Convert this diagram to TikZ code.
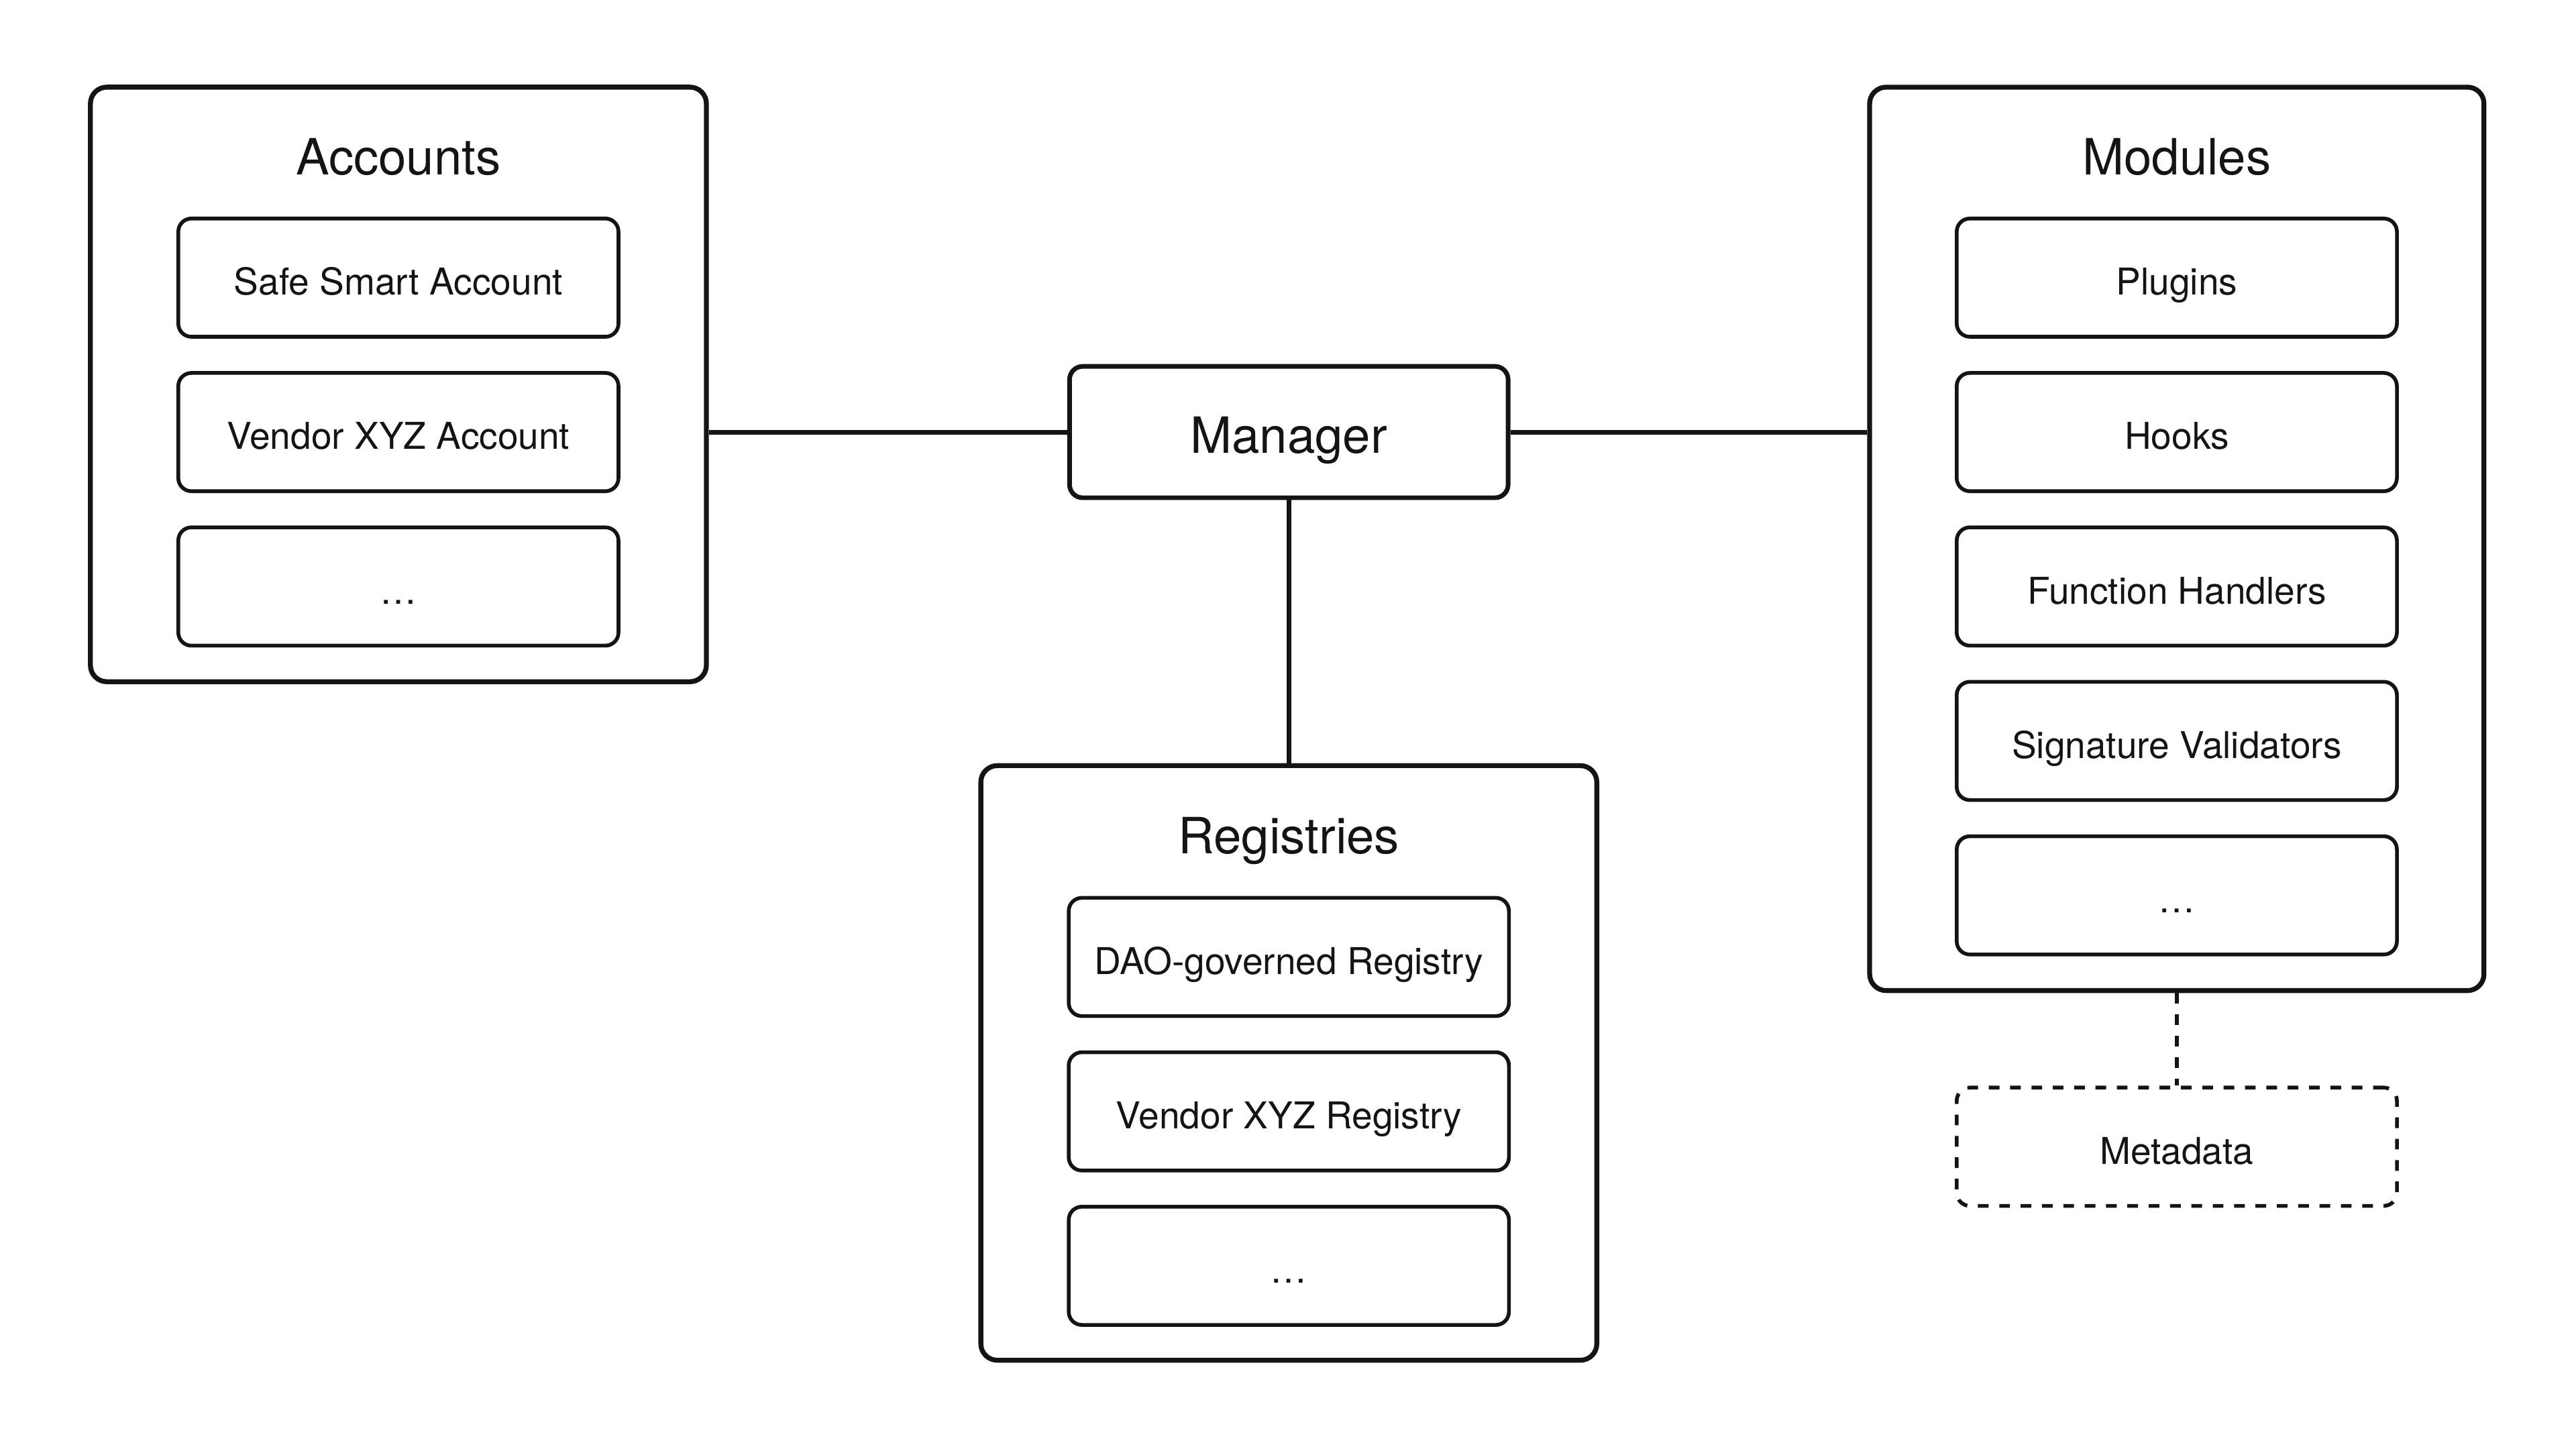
\documentclass[tikz,border=0pt]{standalone}
\usepackage{fontspec}
\setmainfont{TeX Gyre Heros}
\usetikzlibrary{positioning,calc}
\definecolor{InkBlack}{HTML}{141414}
\tikzset{
    group/.style = {draw=InkBlack, rectangle, rounded corners=2mm,
        line width=1.7pt, minimum width=7.5cm},
    item/.style = {draw=InkBlack, rectangle, rounded corners=1.6mm,
        line width=1.3pt, minimum width=5.36cm, minimum height=1.44cm,
        font=\fontsize{12.8}{15}\selectfont,
        text height=12pt, text depth=0pt},
    hub/.style = {item, line width=1.6pt, minimum width=5.34cm, minimum height=1.6cm,
        font=\fontsize{17.3}{20}\selectfont, text height=14.8pt},
    title/.style = {anchor=base, font=\fontsize{17.3}{20}\selectfont},
    link/.style = {draw=InkBlack, line width=1.6pt},
    dashlink/.style = {draw=InkBlack, line width=1.2pt, dash pattern=on 1.3mm off 1.3mm}
}

\begin{document}
\begin{tikzpicture}[x=0.02cm,y=-0.02cm,text=InkBlack]
                    \useasboundingbox (0,0) rectangle (1568,882);
                    \node[group,minimum height=7.24cm] (acc) at (242.5,234) {};
                    \node[group,minimum height=11cm,minimum width=7.48cm] (mod) at (1325,328) {};
                    \node[group,minimum height=7.24cm] (reg) at (784.5,647) {};
                    \node[title] (acctitle) at ([yshift=-1.1cm]acc.north) {Accounts};
                    \node[title] (modtitle) at ([yshift=-1.1cm]mod.north) {Modules};
                    \node[title] (regtitle) at ([yshift=-1.1cm]reg.north) {Registries};
                    \foreach \t [count=\i] in {Safe Smart Account,Vendor XYZ Account,\ldots}{
                        \node[item] (acc\i) at (242.5,75+94*\i) {\t};
                    }
                    \foreach \t [count=\i] in {Plugins,Hooks,Function Handlers,Signature Validators,\ldots}{
                        \node[item] (mod\i) at (1325,75+94*\i) {\t};
                    }
                    \foreach \t [count=\i] in {DAO-governed Registry,Vendor XYZ Registry,\ldots}{
                        \node[item] (reg\i) at (784.5,488.5+94*\i) {\t};
                    }
                    \node[hub] (man) at (784.5,263) {Manager};
                    \node[item,dash pattern=on 1.3mm off 1.3mm] (meta) at (1325,698) {Metadata};
                    \draw[link] (man.west) -- (man.west -| acc.east);
                    \draw[link] (man.east) -- (man.east -| mod.west);
                    \draw[link] (man.south) -- (reg.north);
                    \draw[dashlink] (mod.south) -- (meta.north);
\end{tikzpicture}
\end{document}
